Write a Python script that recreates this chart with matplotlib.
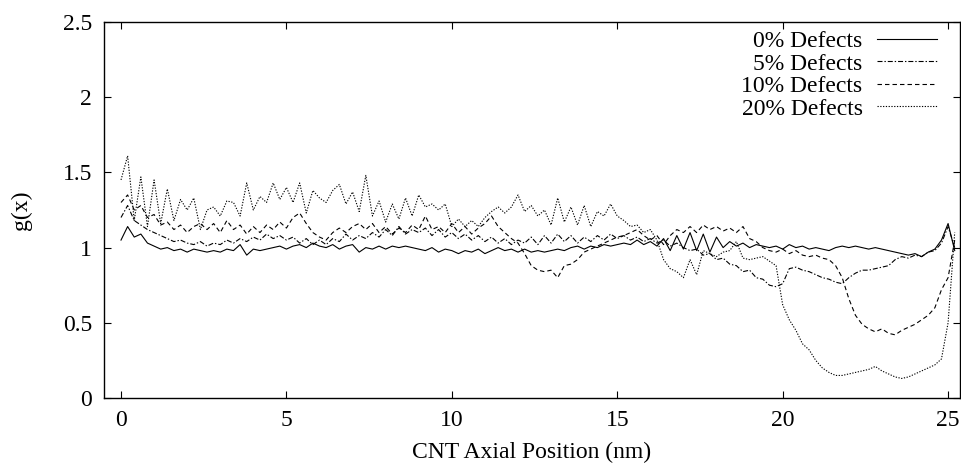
import numpy as np
import matplotlib
matplotlib.use("Agg")
import matplotlib.pyplot as plt

plt.rcParams['font.family'] = ['Liberation Serif', 'DejaVu Serif']
plt.rcParams['lines.scale_dashes'] = False

# axial positions (nm), sampled every 0.2 nm
x_nm = np.round(np.arange(127) * 0.2, 1)

g_0 = [1.05, 1.14, 1.07, 1.09, 1.03, 1.01, 0.99, 1.00, 0.98, 0.99,
       0.97, 0.99, 0.98, 0.97, 0.98, 0.97, 0.99, 0.98, 1.02, 0.95,
       0.99, 0.98, 0.99, 1.00, 1.01, 0.99, 1.01, 1.02, 1.00, 1.03,
       1.01, 1.00, 1.02, 0.99, 1.01, 1.02, 0.97, 1.00, 0.99, 1.01,
       0.99, 1.01, 1.00, 1.01, 1.00, 0.99, 0.98, 1.00, 0.97, 0.99,
       0.98, 0.96, 0.98, 0.97, 0.99, 0.96, 0.98, 1.00, 0.98, 0.99,
       0.97, 0.99, 0.97, 0.98, 0.97, 0.98, 0.99, 0.98, 1.00, 1.01,
       0.99, 1.01, 1.00, 1.02, 1.01, 1.02, 1.03, 1.02, 1.05, 1.02,
       1.04, 1.01, 1.06, 0.98, 1.08, 0.99, 1.10, 0.98, 1.09, 0.97,
       1.07, 1.00, 1.04, 1.01, 1.03, 1.00, 1.02, 1.01, 1.00, 1.01,
       0.99, 1.02, 1.00, 1.01, 0.99, 1.00, 0.99, 0.98, 1.00, 1.01,
       1.00, 1.01, 1.00, 0.99, 1.00, 0.99, 0.98, 0.97, 0.96, 0.95,
       0.96, 0.94, 0.97, 0.99, 1.05, 1.16, 0.98]

g_5 = [1.20, 1.28, 1.18, 1.15, 1.12, 1.10, 1.08, 1.06, 1.04, 1.05,
       1.03, 1.02, 1.04, 1.01, 1.03, 1.02, 1.05, 1.03, 1.06, 1.04,
       1.07, 1.05, 1.09, 1.06, 1.08, 1.05, 1.07, 1.03, 1.06, 1.02,
       1.05, 1.02, 1.06, 1.04, 1.09, 1.05, 1.08, 1.06, 1.10, 1.07,
       1.12, 1.08, 1.14, 1.09, 1.12, 1.10, 1.13, 1.08, 1.12, 1.07,
       1.10, 1.06, 1.09, 1.05, 1.08, 1.04, 1.07, 1.03, 1.06, 1.02,
       1.05, 1.03, 1.07, 1.02, 1.08, 1.03, 1.09, 1.04, 1.08, 1.03,
       1.07, 1.04, 1.08, 1.05, 1.09, 1.06, 1.08, 1.05, 1.07, 1.04,
       1.06, 1.03, 1.05, 1.01, 1.03, 1.00, 0.98, 0.99, 0.95, 0.96,
       0.92, 0.93, 0.89, 0.88, 0.84, 0.85, 0.80, 0.79, 0.75, 0.74,
       0.76, 0.86, 0.87, 0.85, 0.84, 0.82, 0.80, 0.79, 0.77, 0.76,
       0.80, 0.83, 0.85, 0.85, 0.86, 0.87, 0.88, 0.92, 0.94, 0.93,
       0.95, 0.94, 0.97, 0.98, 1.03, 1.14, 1.00]

g_10 = [1.30, 1.35, 1.25, 1.28, 1.20, 1.22, 1.15, 1.17, 1.12, 1.15,
        1.10, 1.14, 1.16, 1.12, 1.16, 1.10, 1.18, 1.12, 1.15, 1.09,
        1.14, 1.10, 1.15, 1.12, 1.17, 1.13, 1.20, 1.23, 1.16, 1.10,
        1.07, 1.05, 1.10, 1.13, 1.10, 1.14, 1.16, 1.12, 1.16, 1.10,
        1.14, 1.09, 1.13, 1.10, 1.15, 1.12, 1.21, 1.12, 1.14, 1.10,
        1.16, 1.10, 1.14, 1.09, 1.13, 1.16, 1.21, 1.14, 1.10, 1.06,
        1.03, 0.96, 0.88, 0.85, 0.84, 0.85, 0.80, 0.88, 0.89, 0.92,
        0.97, 0.99, 1.01, 1.03, 1.05, 1.07, 1.08, 1.10, 1.12, 1.08,
        1.05, 1.08, 1.02, 1.08, 1.12, 1.10, 1.14, 1.10, 1.15, 1.12,
        1.14, 1.11, 1.13, 1.10, 1.14, 1.06, 1.04, 1.00, 0.98, 0.97,
        0.99, 0.96, 0.98, 0.95, 0.94, 0.95, 0.93, 0.92, 0.88, 0.80,
        0.66, 0.55, 0.49, 0.46, 0.44, 0.46, 0.43, 0.42, 0.45, 0.47,
        0.49, 0.52, 0.55, 0.60, 0.72, 0.80, 1.05]

g_20 = [1.45, 1.61, 1.18, 1.47, 1.14, 1.45, 1.16, 1.39, 1.18, 1.32,
        1.25, 1.33, 1.12, 1.25, 1.27, 1.21, 1.31, 1.30, 1.21, 1.43,
        1.25, 1.34, 1.30, 1.43, 1.32, 1.40, 1.30, 1.43, 1.23, 1.38,
        1.33, 1.30, 1.38, 1.42, 1.29, 1.37, 1.24, 1.48, 1.21, 1.31,
        1.17, 1.29, 1.19, 1.33, 1.21, 1.35, 1.27, 1.29, 1.25, 1.29,
        1.14, 1.19, 1.14, 1.18, 1.14, 1.20, 1.24, 1.27, 1.23, 1.27,
        1.35, 1.24, 1.28, 1.21, 1.25, 1.15, 1.33, 1.17, 1.27, 1.15,
        1.28, 1.14, 1.24, 1.21, 1.29, 1.21, 1.18, 1.14, 1.15, 1.10,
        1.12, 1.05, 0.92, 0.86, 0.84, 0.80, 0.92, 0.82, 0.98, 0.96,
        0.94, 0.97, 0.98, 1.04, 0.93, 0.92, 0.93, 0.94, 0.91, 0.88,
        0.62, 0.52, 0.45, 0.36, 0.32, 0.25, 0.20, 0.17, 0.15, 0.15,
        0.16, 0.17, 0.18, 0.19, 0.21, 0.18, 0.16, 0.14, 0.13, 0.14,
        0.16, 0.18, 0.20, 0.22, 0.26, 0.50, 1.10]

labels = ['0% Defects', '5% Defects', '10% Defects', '20% Defects']
x_ticks = [0, 5, 10, 15, 20, 25]
y_ticks = [0, 0.5, 1, 1.5, 2, 2.5]
y_tick_labels = ['0', '0.5', '1', '1.5', '2', '2.5']

styles = [
    dict(linestyle='-'),
    dict(linestyle=(0, (3.6, 1.4, 1.0, 1.4))),
    dict(linestyle=(0, (3.2, 2.2))),
    dict(linestyle=(0, (0.9, 1.1))),
]

FS = 17

fig = plt.figure(figsize=(9.61, 4.65), dpi=100)
ax = fig.add_axes([104 / 961, 67 / 465, 856 / 961, 376 / 465])

handles = []
for ys, st, lab in zip([g_0, g_5, g_10, g_20], styles, labels):
    h, = ax.plot(x_nm, ys, color='black', linewidth=0.8, label=lab, **st)
    handles.append(h)

ax.set_xlim(-0.514, 25.36)
ax.set_ylim(0, 2.5)
ax.set_xticks(x_ticks)
ax.set_yticks(y_ticks)
ax.set_yticklabels(y_tick_labels)
ax.tick_params(direction='in', length=5, width=0.8, top=True, right=True,
               labelsize=FS, pad=8.5)
for sp in ax.spines.values():
    sp.set_linewidth(1.0)

ax.set_xlabel('CNT Axial Position (nm)', fontsize=FS, labelpad=8)
ax.set_ylabel('g(x)', fontsize=FS, labelpad=22)

ax.legend(handles, labels, loc='upper right', frameon=False, markerfirst=False,
          fontsize=FS, handlelength=2.55, handletextpad=0.6,
          labelspacing=0.04, borderaxespad=0, borderpad=0,
          bbox_to_anchor=(0.973, 0.977))

fig.savefig('out.png', dpi=100)
